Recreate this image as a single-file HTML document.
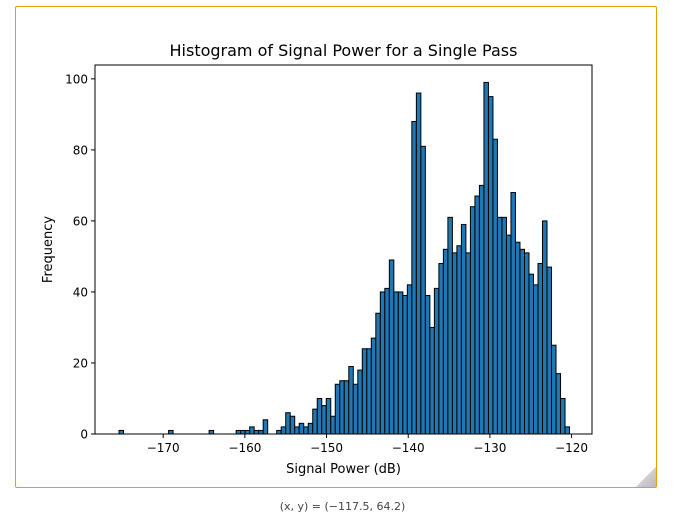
<!DOCTYPE html>
<html><head><meta charset="utf-8">
<style>
html,body{margin:0;padding:0;background:#fff;width:685px;height:514px;overflow:hidden;font-family:"DejaVu Sans","Liberation Sans",sans-serif;}
#card{position:absolute;left:15px;top:6px;width:640px;height:480px;border:1px solid #e8a000;border-radius:2px;background:#fff;}
#fold{position:absolute;left:636px;top:467px;width:20px;height:20px;background:linear-gradient(135deg,#fff 50%,#d0d0d0 50%,#b8b8b8 100%);}
#status{position:absolute;left:0;width:685px;top:500px;text-align:center;font-size:11px;color:#444;}
svg{position:absolute;left:0;top:0;}
</style></head><body>
<div id="card"></div>
<div id="fold"></div>
<svg id="chart" width="685" height="514"></svg>
<div id="status">(x, y) = (−117.5, 64.2)</div>
<script>
const counts = [1,0,0,0,0,0,0,0,0,0,0,1,0,0,0,0,0,0,0,0,1,0,0,0,0,0,1,1,1,2,1,1,4,0,0,1,2,6,5,2,3,2,3,7,10,8,10,5,14,15,15,19,14,18,24,24,27,34,40,41,49,40,40,39,42,88,96,81,39,30,41,48,52,61,51,53,59,51,64,67,70,99,95,83,61,61,56,68,54,52,51,45,42,48,60,47,25,17,10,2];
const binStart = -175.41;
const binWidth = 0.5516;
const xTicks = [-170,-160,-150,-140,-130,-120];
const yTicks = [0,20,40,60,80,100];
const xMin=-178.35, xMax=-117.5, yMin=0, yMax=103.9;
const L=95,R=592,T=65,B=434;
const X=v=>L+(v-xMin)/(xMax-xMin)*(R-L);
const Y=v=>B-(v-yMin)/(yMax-yMin)*(B-T);
const NS="http://www.w3.org/2000/svg";
const svg=document.getElementById('chart');
function mk(tag,attrs){const e=document.createElementNS(NS,tag);for(const k in attrs)e.setAttribute(k,attrs[k]);svg.appendChild(e);return e;}
counts.forEach((c,i)=>{
  if(c<=0)return;
  const x0=X(binStart+i*binWidth), x1=X(binStart+(i+1)*binWidth);
  const r=mk('rect',{x:x0,y:Y(c),width:x1-x0,height:Y(0)-Y(c),fill:'#1f77b4',stroke:'#000','stroke-width':1});
  
  
});
const frame=mk('rect',{x:L,y:T,width:R-L,height:B-T,fill:'none',stroke:'#000','stroke-width':1});


xTicks.forEach(t=>{
  const x=X(t);
  mk('line',{x1:x,x2:x,y1:B,y2:B+4,stroke:'#000'});
  const tx=mk('text',{x:x,y:B+18,'text-anchor':'middle','font-size':12,fill:'#000'});
  tx.textContent=String(t).replace('-','\u2212');
  
  
});
yTicks.forEach(t=>{
  const y=Y(t);
  mk('line',{x1:L-4,x2:L,y1:y,y2:y,stroke:'#000'});
  const tx=mk('text',{x:L-7,y:y+4.5,'text-anchor':'end','font-size':12,fill:'#000'});
  tx.textContent=t;
  
  
});
const title=mk('text',{x:(L+R)/2,y:56,'text-anchor':'middle','font-size':16,fill:'#000'});
title.textContent='Histogram of Signal Power for a Single Pass';


const xl=mk('text',{x:(L+R)/2,y:473,'text-anchor':'middle','font-size':13,fill:'#000'});
xl.textContent='Signal Power (dB)';


const yl=mk('text',{x:52,y:(T+B)/2,'text-anchor':'middle','font-size':13,fill:'#000',transform:'rotate(-90 52 '+((T+B)/2)+')'});
yl.textContent='Frequency';


</script>
</body></html>
